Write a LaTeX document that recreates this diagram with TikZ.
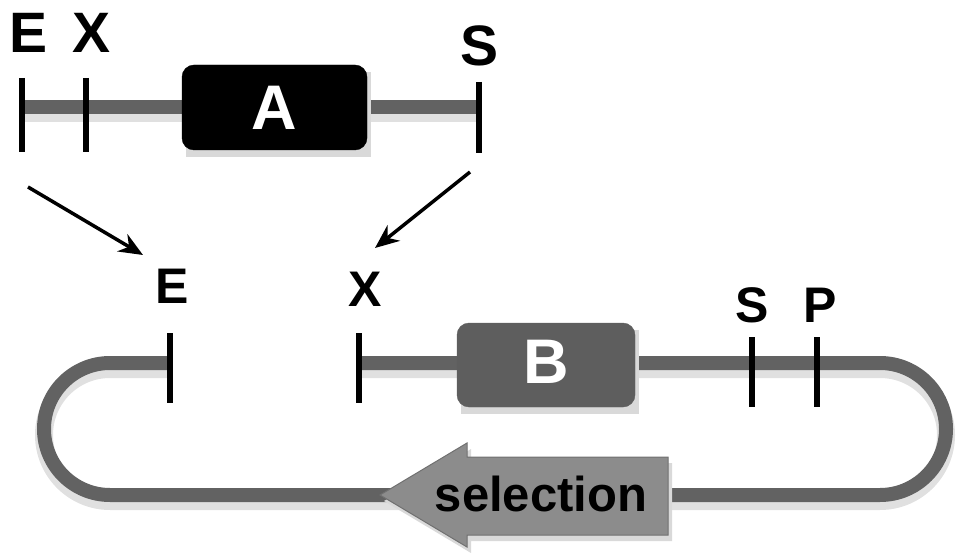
\documentclass[tikz,border=0pt]{standalone}
\usepackage{fontspec}
\setmainfont{Liberation Sans}
\usetikzlibrary{arrows.meta}
\definecolor{linegray}{HTML}{626262}
\definecolor{boxB}{HTML}{5E5E5E}
\definecolor{selgray}{HTML}{8C8C8C}
\tikzset{
  dna/.style={draw=linegray, line width=14pt},
  dnashadow/.style={draw=black!12, line width=18pt},
  site/.style={draw=black, line width=6pt},
  lbl/.style={font=\fontsize{57}{57}\selectfont\bfseries, inner sep=0pt},
  lblb/.style={font=\fontsize{50}{50}\selectfont\bfseries, inner sep=0pt},
  gene/.style={rounded corners=12pt, font=\fontsize{63}{63}\selectfont\bfseries, text=white},
  insarrow/.style={draw=black, line width=3.5pt, -{Stealth[length=24pt,width=20pt]}},
}
\begin{document}
\begin{tikzpicture}[x=1pt,y=-1pt]
\useasboundingbox (0,0) rectangle (958,553);
% ---------- insert (top) ----------
\draw[dnashadow] (22,113) -- (479,113);
\draw[dna] (22,107) -- (479,107);
\fill[black!15] (186,72) rectangle (371,157);
\filldraw[gene, fill=black, draw=black] (182,65) rectangle (367,150);
\node[gene] (A) at (274.5,108) {A};
\draw[site] (22,78) -- (22,152);
\draw[site] (86,78) -- (86,152);
\draw[site] (479,82) -- (479,153);
\node[lbl] (tE) at (29,33) {E};
\node[lbl] (tX) at (92,33) {X};
\node[lbl] (tS) at (480,46) {S};
% ---------- arrows ----------
\coordinate (a1s) at (28,187);
\coordinate (a1e) at (143,255);
\coordinate (a2s) at (470,172);
\coordinate (a2e) at (375,248);
\draw[insarrow] (a1s) -- (a1e);
\draw[insarrow] (a2s) -- (a2e);
% ---------- vector (bottom) ----------
\draw[dnashadow] (170,369) -- (110,369) arc[start angle=-90,end angle=-270,radius=66] -- (880,501) arc[start angle=90,end angle=-90,radius=66] -- (359,369);
\draw[dna] (170,363) -- (110,363) arc[start angle=-90,end angle=-270,radius=66] -- (880,495) arc[start angle=90,end angle=-90,radius=66] -- (359,363);
% selection marker
\fill[black!15] (384,501) -- (471,449) -- (471,463) -- (672,463) -- (672,541) -- (471,541) -- (471,553) -- cycle;
\filldraw[fill=selgray, draw=selgray!80!black, line width=1pt] (380,495) -- (467,443) -- (467,457) -- (668,457) -- (668,535) -- (467,535) -- (467,547) -- cycle;
\node[inner sep=0pt, font=\fontsize{49}{49}\selectfont\bfseries] (sel) at (541,494) {selection};
% gene B
\fill[black!15] (461,330) rectangle (639,414);
\filldraw[gene, fill=boxB, draw=boxB] (457,323) rectangle (635,407);
\node[gene] (B) at (546,362) {B};
% sites
\draw[site] (170,333) -- (170,403);
\draw[site] (359,333) -- (359,403);
\draw[site] (752,337) -- (752,407);
\draw[site] (817,337) -- (817,407);
\node[lblb] (bE) at (172,286) {E};
\node[lblb] (bX) at (365,289) {X};
\node[lblb] (bS) at (752,305) {S};
\node[lblb] (bP) at (820,305) {P};
\end{tikzpicture}
\end{document}
